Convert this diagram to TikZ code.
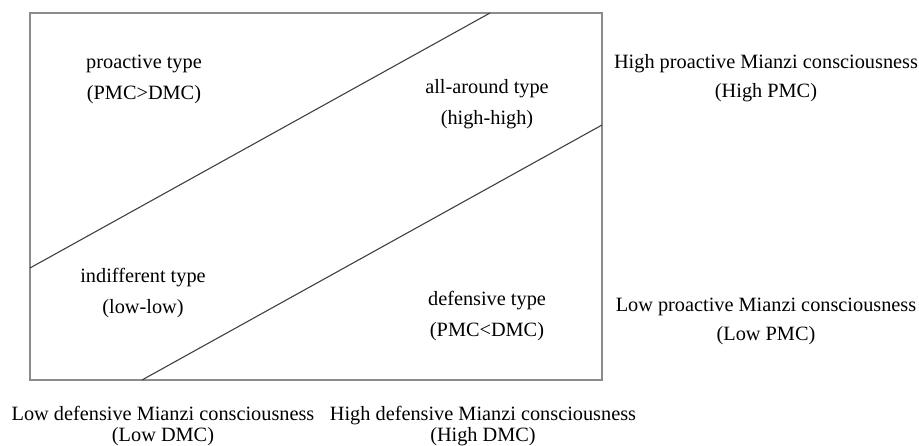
\documentclass[tikz,border=0pt]{standalone}
\usepackage{fontspec}
\setmainfont{Liberation Serif}
\usetikzlibrary{positioning}

\begin{document}
\begin{tikzpicture}[x=1pt, y=-1pt,
    typelabel/.style={font=\fontsize{20.3}{31}\selectfont, align=center, inner sep=0pt},
    axislabel/.style={font=\fontsize{20.3}{29}\selectfont, align=center, inner sep=0pt},
    bottomlabel/.style={font=\fontsize{20.3}{20.5}\selectfont, align=center, inner sep=0pt},
    frame/.style={draw=black!45, line width=1.1pt},
    divide/.style={draw=black!75, line width=1.1pt}]
  \useasboundingbox (0,0) rectangle (919,446);

  % quadrant box and the two dividing lines
  \draw[frame] (30,13) rectangle (602,380);
  \draw[divide] (30,268) -- (490,13);
  \draw[divide] (142,380) -- (602,125);

  % the four types
  \node[typelabel] (proactive)   at (144,79)  {proactive type\\(PMC>DMC)};
  \node[typelabel] (allaround)   at (487,104) {all-around type\\(high-high)};
  \node[typelabel] (indifferent) at (143,293) {indifferent type\\(low-low)};
  \node[typelabel] (defensive)   at (487,316) {defensive type\\(PMC<DMC)};

  % axis labels
  \node[axislabel] (highpmc) at (766,78)  {High proactive Mianzi consciousness\\(High PMC)};
  \node[axislabel] (lowpmc)  at (766,321) {Low proactive Mianzi consciousness\\(Low PMC)};
  \node[bottomlabel] (lowdmc)  at (163,426) {Low defensive Mianzi consciousness\\(Low DMC)};
  \node[bottomlabel] (highdmc) at (483,426) {High defensive Mianzi consciousness\\(High DMC)};
\end{tikzpicture}
\end{document}
